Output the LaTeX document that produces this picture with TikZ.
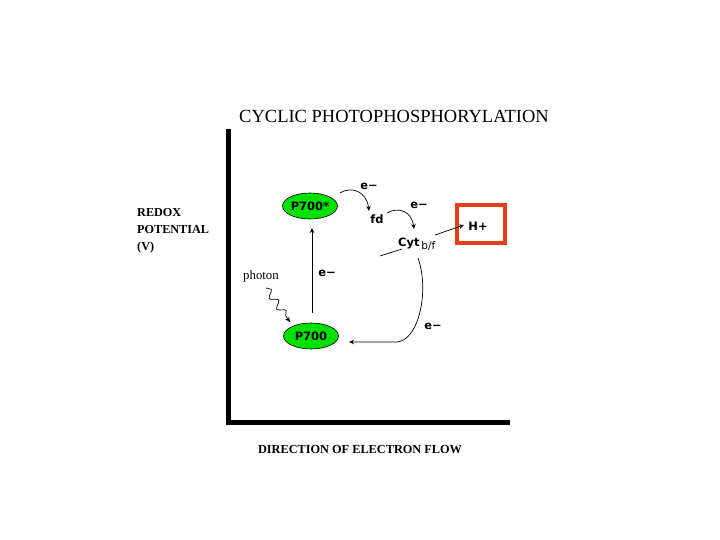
\documentclass[tikz,border=0pt]{standalone}
\usepackage{fontspec}
\setmainfont{Liberation Serif}
\newfontfamily\lab{DejaVu Sans}
\usetikzlibrary{arrows.meta,decorations.pathmorphing,shapes.geometric}
\definecolor{psgreen}{RGB}{0,225,0}
\definecolor{boxred}{RGB}{230,62,22}
\begin{document}
\begin{tikzpicture}[x=1pt,y=-1pt,
  axis/.style={line width=5pt, line cap=butt, line join=miter},
  pnode/.style={ellipse, draw=black, line width=0.6pt, fill=psgreen, minimum width=55pt, minimum height=26pt, inner sep=0pt, font=\lab\bfseries\fontsize{11.5}{13}\selectfont},
  lbl/.style={font=\lab\bfseries\fontsize{11.5}{13}\selectfont, inner sep=0pt},
  arr/.style={-{Stealth[length=5pt,width=4.5pt]}, line width=0.7pt},
  plain/.style={line width=0.7pt}]
\useasboundingbox (0,0) rectangle (720,540);
% title
\node[font=\fontsize{18.5}{21}\selectfont, inner sep=0pt] (title) at (394,116) {CYCLIC PHOTOPHOSPHORYLATION};
% axes
\coordinate (axtop) at (228,129);
\coordinate (axorig) at (228,422);
\coordinate (axend) at (510,422);
\draw[axis] (axtop) -- (axorig) -- (axend);
\node[anchor=west, align=left, inner sep=0pt, font=\bfseries\fontsize{12.2}{17}\selectfont] (redox) at (137,231) {REDOX\\POTENTIAL\\(V)};
\node[font=\bfseries\fontsize{12.3}{14}\selectfont, inner sep=0pt] (dir) at (360,450) {DIRECTION OF ELECTRON FLOW};
% nodes
\node[pnode] (ps) at (310,206) {P700*};
\node[pnode] (p) at (311,336) {P700};
\node[lbl] (fd) at (377,219) {fd};
\node[lbl, anchor=base west] (cyt) at (398,246) {Cyt\raisebox{-3pt}{\mdseries\fontsize{10.5}{12}\selectfont\,b/f}};
\node[draw=boxred, line width=4pt, minimum width=48pt, minimum height=38pt, inner sep=0pt] (hbox) at (481,224) {};
\node[lbl] (hp) at (478,226) {H+};
\node[lbl] (e1) at (369,186) {e−};
\node[lbl] (e2) at (419,205) {e−};
\node[lbl] (e3) at (327,273) {e−};
\node[lbl] (e4) at (433,326) {e−};
\node[font=\fontsize{12.8}{14}\selectfont, inner sep=0pt] (photon) at (261,276) {photon};
% connector coordinates
\coordinate (a1s) at (340,193); \coordinate (a1e) at (369,211);
\coordinate (a2s) at (387,213); \coordinate (a2e) at (414,229);
\coordinate (a3s) at (435,235); \coordinate (a3e) at (464,225);
\coordinate (a4s) at (418,258); \coordinate (a4e) at (349,342);
\coordinate (a5s) at (312,313); \coordinate (a5e) at (312,228);
\coordinate (phs) at (266,288); \coordinate (phe) at (290,322);
\coordinate (ss) at (380,256); \coordinate (se) at (402,249);
% connectors
\draw[arr] (a1s) .. controls (353,185) and (367,193) .. (a1e);
\draw[arr] (a2s) .. controls (399,206) and (412,212) .. (a2e);
\draw[arr] (a3s) -- (a3e);
\draw[arr] (a4s) .. controls (430,292) and (418,342) .. (396,342) -- (a4e);
\draw[arr] (a5s) -- (a5e);
\draw[plain] (ss) -- (se);
\draw[arr, decorate, decoration={snake, amplitude=3.5pt, segment length=13pt, post length=5pt}] (phs) -- (phe);
\end{tikzpicture}
\end{document}
